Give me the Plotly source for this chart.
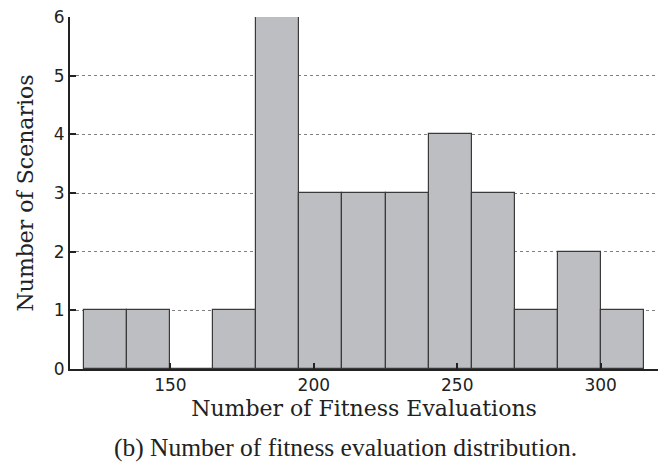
import plotly.graph_objects as go

# Histogram bins (left edges) and counts
bin_left = [120, 135, 150, 165, 180, 195, 210, 225, 240, 255, 270, 285, 300]
bin_width = 15
counts = [1, 1, 0, 1, 6, 3, 3, 3, 4, 3, 1, 2, 1]

x_ticks = [150, 200, 250, 300]
y_ticks = [0, 1, 2, 3, 4, 5, 6]
x_range = [115, 320]
y_range = [0, 6]

x_title = "Number of Fitness Evaluations"
y_title = "Number of Scenarios"
caption = "(b) Number of fitness evaluation distribution."

centers = [b + bin_width / 2 for b in bin_left]

fig = go.Figure()
fig.add_trace(go.Bar(
    x=centers,
    y=counts,
    width=[bin_width] * len(centers),
    marker=dict(color="#bdbec2", line=dict(color="#3a3a3a", width=1.2)),
    showlegend=False,
))

tick_font = dict(family="DejaVu Sans", size=17, color="#222")
title_font = dict(family="DejaVu Serif", size=22, color="#222")

frame_axis = dict(
    ticks="inside", ticklen=6, tickwidth=2, tickcolor="#222",
    showline=True, linecolor="#222", linewidth=2,
    showticklabels=False, showgrid=False, zeroline=False,
)

fig.update_layout(
    width=666,
    height=466,
    margin=dict(l=70, r=8, t=17, b=97),
    paper_bgcolor="white",
    plot_bgcolor="white",
    bargap=0,
    xaxis=dict(
        range=x_range,
        tickvals=x_ticks,
        ticks="inside",
        ticklen=6,
        tickwidth=2,
        tickcolor="#222",
        showline=True,
        linecolor="#222",
        linewidth=2,
        zeroline=False,
        tickfont=tick_font,
        automargin=False,
        showgrid=False,
        title=dict(text=x_title, font=title_font, standoff=6),
    ),
    yaxis=dict(
        range=y_range,
        tickvals=y_ticks,
        ticks="inside",
        ticklen=6,
        tickwidth=2,
        tickcolor="#222",
        showline=True,
        linecolor="#222",
        linewidth=2,
        zeroline=False,
        tickfont=tick_font,
        automargin=False,
        showgrid=True,
        gridcolor="#808080",
        gridwidth=1,
        griddash="dot",
        title=dict(text=y_title, font=title_font, standoff=14),
    ),
    xaxis2=dict(overlaying="x", side="top", anchor="y", range=x_range,
                tickvals=x_ticks, **frame_axis),
    yaxis2=dict(overlaying="y", side="right", anchor="x", range=y_range,
                tickvals=y_ticks, **frame_axis),
    annotations=[dict(
        text=caption,
        xref="paper", yref="paper",
        x=0.469, y=-0.2216,
        xanchor="center", yanchor="middle",
        showarrow=False,
        font=dict(family="Liberation Serif", size=25.5, color="#222"),
    )],
)

fig.write_html(
    "out.html",
    config={"displayModeBar": False},
    post_script="document.body.style.margin='0';document.body.style.padding='0';",
)
